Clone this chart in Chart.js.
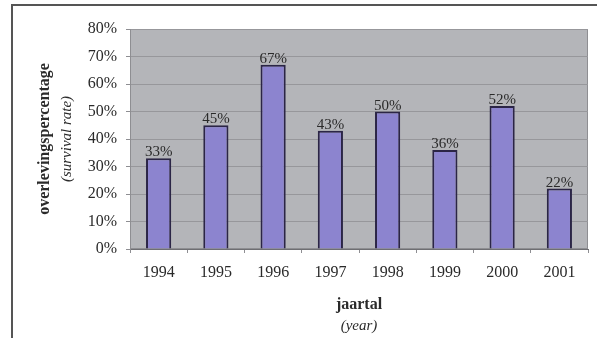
<!DOCTYPE html>
<html>
<head>
<meta charset="utf-8">
<script src="https://cdn.jsdelivr.net/npm/chart.js@4.4.1/dist/chart.umd.min.js"></script>
<style>
  html, body { margin: 0; padding: 0; background: #fff; }
  #wrap { position: relative; width: 597px; height: 338px; }
</style>
</head>
<body>
<div id="wrap"><canvas id="grafik" width="597" height="338"></canvas></div>
<script>
// === DATA ===
const jaren = ['1994', '1995', '1996', '1997', '1998', '1999', '2000', '2001'];
const overleving = [33, 45, 67, 43, 50, 36, 52, 22];
const yTicks = [0, 10, 20, 30, 40, 50, 60, 70, 80];

const serif = '"Liberation Serif", "Times New Roman", serif';
const textColor = '#2a2a2a';

// Plot background + outer frame
const achtergrond = {
    id: 'achtergrond',
    beforeDraw(chart) {
        const { ctx, chartArea: a } = chart;
        ctx.save();
        ctx.fillStyle = '#b4b5b9';
        ctx.fillRect(a.left, a.top, a.right - a.left, a.bottom - a.top);
        ctx.strokeStyle = '#8e8e92';
        ctx.lineWidth = 1;
        ctx.strokeRect(a.left + 0.5, a.top + 0.5, a.right - a.left - 1, a.bottom - a.top - 1);
        // frame of the picture
        ctx.strokeStyle = '#555';
        ctx.lineWidth = 2;
        ctx.beginPath();
        ctx.moveTo(12, 338);
        ctx.lineTo(12, 5);
        ctx.lineTo(597, 5);
        ctx.stroke();
        ctx.restore();
    }
};

// Value labels above bars + axis titles
const labels = {
    id: 'labels',
    afterDatasetsDraw(chart) {
        const { ctx, chartArea: a } = chart;
        const meta = chart.getDatasetMeta(0);
        ctx.save();
        ctx.fillStyle = textColor;
        ctx.font = '15px ' + serif;
        ctx.textAlign = 'center';
        ctx.textBaseline = 'alphabetic';
        meta.data.forEach((bar, i) => {
            ctx.fillText(overleving[i] + '%', bar.x, bar.y - 2);
        });

        // x title
        const cx = (a.left + a.right) / 2;
        ctx.textBaseline = 'middle';
        ctx.font = 'bold 16px ' + serif;
        ctx.fillText('jaartal', cx, 305);
        ctx.font = 'italic 15px ' + serif;
        ctx.fillText('(year)', cx, 326);

        // y title
        const cy = (a.top + a.bottom) / 2;
        ctx.translate(45, cy);
        ctx.rotate(-Math.PI / 2);
        ctx.font = 'bold 16px ' + serif;
        ctx.fillText('overlevingspercentage', 0, 0);
        ctx.font = 'italic 15px ' + serif;
        ctx.fillText('(survival rate)', 0, 22);
        ctx.restore();
    }
};

new Chart(document.getElementById('grafik'), {
    type: 'bar',
    data: {
        labels: jaren,
        datasets: [{
            data: overleving,
            backgroundColor: '#8c84cf',
            borderColor: '#2b2546',
            borderWidth: 2,
            categoryPercentage: 1,
            barPercentage: 0.44
        }]
    },
    options: {
        responsive: false,
        animation: false,
        layout: { padding: { left: 0, right: 9, top: 29, bottom: 49 } },
        plugins: {
            legend: { display: false },
            tooltip: { enabled: false }
        },
        scales: {
            x: {
                afterFit: (s) => { s.height = 40; },
                grid: {
                    drawOnChartArea: false,
                    drawTicks: true,
                    tickLength: 4,
                    color: '#8e8e92'
                },
                border: { color: '#6e6e72', width: 1 },
                ticks: {
                    color: textColor,
                    font: { family: serif, size: 16 },
                    padding: 10,
                    maxRotation: 0
                }
            },
            y: {
                min: 0,
                max: 80,
                afterFit: (s) => { s.width = 130; },
                afterBuildTicks: (s) => { s.ticks = yTicks.map(v => ({ value: v })); },
                grid: {
                    color: '#97979b',
                    tickLength: 4,
                    tickColor: '#8e8e92'
                },
                border: { color: '#8e8e92' },
                ticks: {
                    color: textColor,
                    font: { family: serif, size: 16 },
                    padding: 9,
                    callback: (v) => v + '%'
                }
            }
        }
    },
    plugins: [achtergrond, labels]
});
</script>
</body>
</html>
